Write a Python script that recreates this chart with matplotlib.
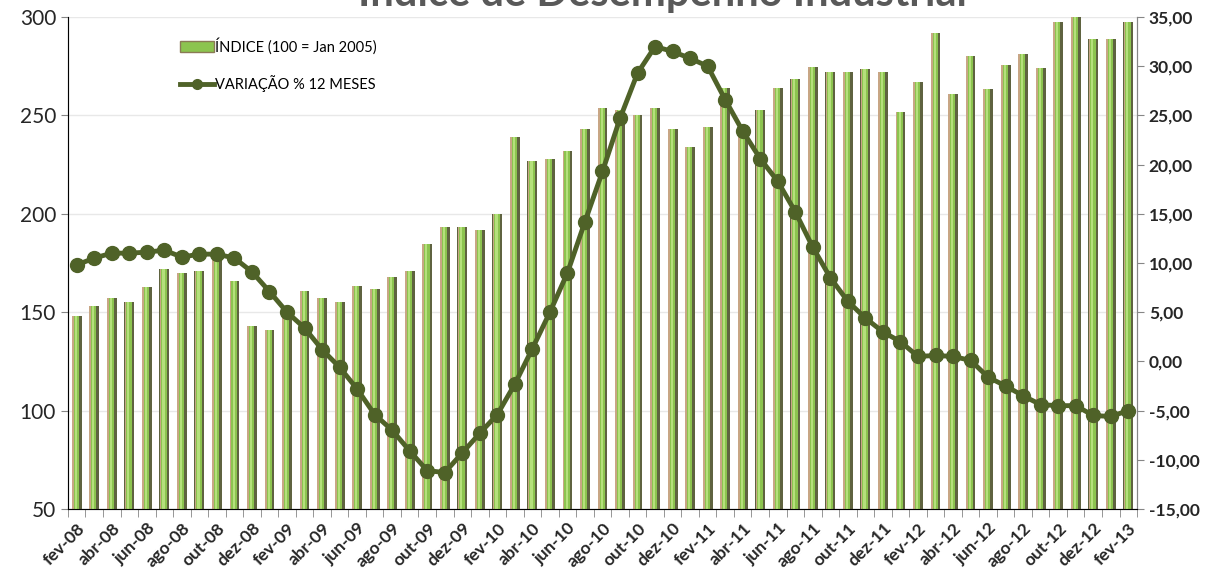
import numpy as np
import matplotlib.pyplot as plt
from matplotlib.lines import Line2D

plt.rcParams['font.family'] = ['Lato', 'DejaVu Sans']

# meses de fev-08 a fev-13
abrev = ['jan', 'fev', 'mar', 'abr', 'mai', 'jun', 'jul', 'ago', 'set', 'out', 'nov', 'dez']
meses = []
for ano in range(8, 14):
    for m in abrev:
        meses.append(f'{m}-{ano:02d}')
meses = meses[1:62]

# indice (100 = Jan 2005)
indice = [148, 153, 157, 155, 163, 172, 170, 171, 179, 166, 143, 141,
          149, 161, 157, 155, 163.5, 162, 168, 171, 184.5, 193.5, 193.5, 192,
          200, 239, 227, 228, 232, 243, 254, 253, 250, 254, 243, 234,
          244, 264, 245, 253, 264, 268.5, 274.5, 272, 272, 273.5, 272, 251.5,
          267, 292, 261, 280, 263.5, 275.5, 281, 274, 297.5, 300, 289, 289,
          297.5]

# variacao % 12 meses
variacao = [9.8, 10.5, 11.0, 11.0, 11.1, 11.3, 10.6, 10.9, 10.9, 10.5, 9.1, 7.1,
            5.0, 3.4, 1.2, -0.6, -2.8, -5.4, -7.0, -9.1, -11.1, -11.3, -9.3, -7.3,
            -5.4, -2.3, 1.3, 5.0, 9.0, 14.2, 19.3, 24.7, 29.3, 32.0, 31.5, 30.8,
            30.0, 26.6, 23.4, 20.6, 18.3, 15.2, 11.6, 8.5, 6.1, 4.4, 3.0, 2.0,
            0.5, 0.6, 0.5, 0.1, -1.6, -2.5, -3.5, -4.4, -4.5, -4.5, -5.5, -5.6,
            -5.0]

x = np.arange(len(meses))

fig = plt.figure(figsize=(12.13, 5.83), dpi=100)
ax = fig.add_axes([0.056, 0.127, 0.8814, 0.8438])

# barras com aspecto de cilindro (sombra, corpo e brilho)
ax.bar(x, indice, width=0.56, color='#5f6340', zorder=2)
ax.bar(x - 0.21, indice, width=0.12, color='#c8a685', zorder=3)
ax.bar(x - 0.02, indice, width=0.3, color='#8cc44f', zorder=3)
ax.bar(x - 0.05, indice, width=0.12, color='#b5e07c', zorder=4)

ax.set_ylim(50, 300)
ax.set_xlim(-0.5, len(meses) - 0.5)
ax.set_yticks(range(50, 301, 50))
ax.yaxis.grid(True, color='#e8e8e8', lw=1)
ax.set_axisbelow(True)

ax.set_xticks(x[::2])
ax.set_xticklabels(meses[::2], rotation=45, ha='right', rotation_mode='anchor',
                   fontsize=12.5, fontweight='bold', color='#262626')
ax.set_xticks(np.arange(-0.5, len(meses), 1), minor=True)
ax.tick_params(axis='x', which='major', length=0, pad=8)
ax.tick_params(axis='x', which='minor', length=6, color='#868686')
ax.tick_params(axis='y', labelsize=15, color='#868686', labelcolor='#262626', length=5)

ax.spines['top'].set_visible(False)
for s in ['left', 'bottom', 'right']:
    ax.spines[s].set_color('#868686')

ax2 = ax.twinx()
ax2.plot(x, variacao, color='#4f6228', lw=3.5, marker='o', markersize=10, zorder=5)
ax2.set_ylim(-15, 35)
ax2.set_yticks(range(-15, 36, 5))
ax2.set_yticklabels([f'{v:.2f}'.replace('.', ',') for v in range(-15, 36, 5)],
                    fontsize=12.5, fontweight='bold', color='#262626')
ax2.tick_params(axis='y', color='#868686', length=5)
ax2.spines['top'].set_visible(False)
ax2.spines['right'].set_color('#868686')

h_bar = plt.Rectangle((0, 0), 1, 1, facecolor='#8cc44f', edgecolor='#8a7a55', lw=1)
h_lin = Line2D([], [], color='#4f6228', lw=3.5, marker='o', markersize=7)
ax2.legend([h_bar, h_lin], ['ÍNDICE (100 = Jan 2005)', 'VARIAÇÃO % 12 MESES'],
           loc='upper left', bbox_to_anchor=(0.093, 0.985), frameon=False,
           fontsize=10.5, handlelength=2.3, handleheight=0.8, labelspacing=1.45,
           handletextpad=0.1)

fig.text(0.546, 0.9897, 'Índice de Desempenho Industrial', ha='center', va='baseline',
         fontsize=30, fontweight='bold', color='#595959')

fig.savefig('out.png', dpi=100)
